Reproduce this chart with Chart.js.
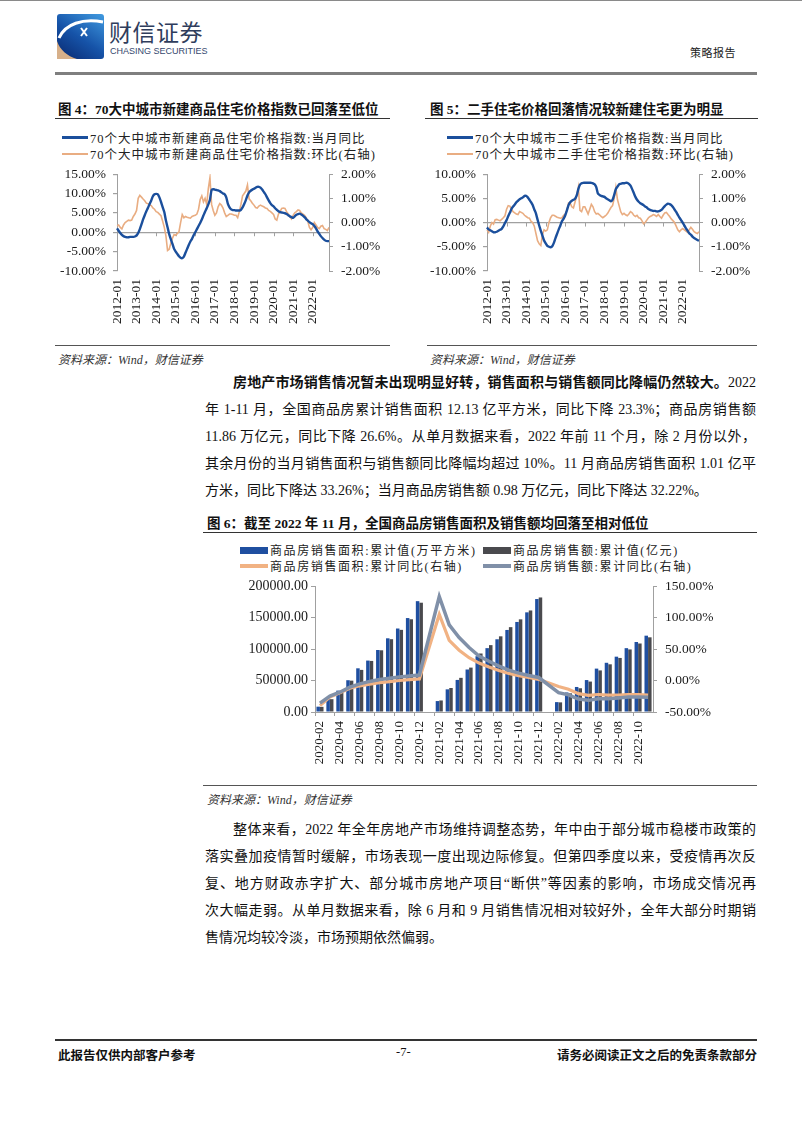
<!DOCTYPE html>
<html lang="zh-CN">
<head>
<meta charset="utf-8">
<title>策略报告 -7-</title>
<script src="https://cdn.jsdelivr.net/npm/chart.js@4.4.1/dist/chart.umd.min.js"></script>
<style>
  body { margin: 0; background: #fff; }
  #page { position: relative; width: 802px; height: 1133px; overflow: hidden;
          font-family: "Liberation Serif", "Noto Sans CJK SC", serif; color: #111; }
  .abs { position: absolute; white-space: nowrap; }
  .rule { position: absolute; height: 0; }
  .fig-title { position: absolute; white-space: nowrap; font-weight: bold; font-size: 13.5px; color: #111; }
  .src { position: absolute; white-space: nowrap; font-style: italic; font-size: 12px; color: #333; }
  .legend { position: absolute; font-size: 12.5px; letter-spacing: 1px; color: #222; white-space: nowrap; }
  .legend .row { height: 16.6px; display: flex; align-items: center; }
  .legend .item { display: flex; align-items: center; }
  .sw { display: inline-block; width: 26px; margin-right: 2px; }
  .box { position: absolute; }
  .para { position: absolute; left: 205px; width: 551px; font-size: 14px; }
  .para .ln { height: 27px; line-height: 27px; white-space: nowrap; text-align: justify; text-align-last: justify; }
  .para .ln.first { padding-left: 28px; }
  .para .ln.last { text-align-last: left; }
</style>
</head>
<body>
<div id="page">

  <!-- header -->
  <div class="rule" style="left:0;top:0;width:802px;border-top:1.5px solid #8a8a8a;"></div>
  <svg class="abs" style="left:57px;top:14px;" width="48" height="46" viewBox="0 0 48 46">
    <defs>
      <linearGradient id="lg" x1="0.9" y1="0" x2="0.2" y2="1">
        <stop offset="0" stop-color="#3d95dc"/>
        <stop offset="0.55" stop-color="#1653a8"/>
        <stop offset="1" stop-color="#0b2f78"/>
      </linearGradient>
    </defs>
    <rect x="0" y="0" width="47" height="45" rx="3" fill="url(#lg)"/>
    <path d="M0 27 L0 45 L20 45 C10 42 3 36 0 27 Z" fill="#d7b08a"/>
    <path d="M2 24 C 8 10, 26 4, 46 8" stroke="#fff" stroke-width="3" fill="none"/>
    <path d="M24 14 L30 22 M30 14 L24 22" stroke="#fff" stroke-width="2" fill="none"/>
  </svg>
  <div class="abs" style="left:109px;top:14px;font-family:'Noto Sans CJK SC';font-size:23px;letter-spacing:0.5px;color:#2f3d5c;">财信证券</div>
  <div class="abs" style="left:110px;top:46px;font-family:'Liberation Sans Narrow','Liberation Sans';font-size:9px;color:#34476e;">CHASING SECURITIES</div>
  <div class="abs" style="left:690px;top:44px;font-family:'Noto Sans CJK SC';font-size:11px;letter-spacing:0.5px;color:#222;">策略报告</div>
  <div class="rule" style="left:55px;top:72px;width:702px;border-top:3px solid #7f7f7f;"></div>

  <!-- figure 4 -->
  <div class="fig-title" style="left:58px;top:98px;">图 4：70大中城市新建商品住宅价格指数已回落至低位</div>
  <div class="rule" style="left:55px;top:118px;width:335px;border-top:1.5px solid #333;"></div>
  <div class="legend" style="left:62px;top:129px;">
    <div class="row"><span class="sw" style="height:2.5px;background:#1b4f9c;"></span>70个大中城市新建商品住宅价格指数:当月同比</div>
    <div class="row"><span class="sw" style="height:2px;background:#e9ad82;"></span>70个大中城市新建商品住宅价格指数:环比(右轴)</div>
  </div>
  <div class="box" style="left:60px;top:158px;width:330px;height:180px;"><canvas id="c4" width="330" height="180"></canvas></div>
  <div class="rule" style="left:55px;top:345px;width:335px;border-top:1.5px solid #555;"></div>
  <div class="src" style="left:58px;top:350px;">资料来源：Wind，财信证券</div>

  <!-- figure 5 -->
  <div class="fig-title" style="left:430px;top:98px;">图 5：二手住宅价格回落情况较新建住宅更为明显</div>
  <div class="rule" style="left:425px;top:118px;width:333px;border-top:1.5px solid #333;"></div>
  <div class="legend" style="left:447px;top:129px;">
    <div class="row"><span class="sw" style="height:2.5px;background:#1b4f9c;"></span>70个大中城市二手住宅价格指数:当月同比</div>
    <div class="row"><span class="sw" style="height:2px;background:#e9ad82;"></span>70个大中城市二手住宅价格指数:环比(右轴)</div>
  </div>
  <div class="box" style="left:430px;top:158px;width:330px;height:180px;"><canvas id="c5" width="330" height="180"></canvas></div>
  <div class="rule" style="left:427px;top:345px;width:330px;border-top:1.5px solid #555;"></div>
  <div class="src" style="left:430px;top:350px;">资料来源：Wind，财信证券</div>

  <!-- paragraph 1 -->
  <div class="para" style="top:369px;">
    <div class="ln first"><b>房地产市场销售情况暂未出现明显好转，销售面积与销售额同比降幅仍然较大。</b>2022</div>
    <div class="ln">年 1-11 月，全国商品房累计销售面积 12.13 亿平方米，同比下降 23.3%；商品房销售额</div>
    <div class="ln">11.86 万亿元，同比下降 26.6%。从单月数据来看，2022 年前 11 个月，除 2 月份以外，</div>
    <div class="ln">其余月份的当月销售面积与销售额同比降幅均超过 10%。11 月商品房销售面积 1.01 亿平</div>
    <div class="ln last">方米，同比下降达 33.26%；当月商品房销售额 0.98 万亿元，同比下降达 32.22%。</div>
  </div>

  <!-- figure 6 -->
  <div class="fig-title" style="left:207px;top:512px;">图 6：截至 2022 年 11 月，全国商品房销售面积及销售额均回落至相对低位</div>
  <div class="rule" style="left:203px;top:532px;width:554px;border-top:1.5px solid #333;"></div>
  <div class="legend" style="left:240px;top:542px;font-size:12px;letter-spacing:1.6px;">
    <div class="row" style="height:16px;">
      <span class="item" style="width:243px;"><span class="sw" style="width:28px;height:7px;background:#1f4fa0;"></span>商品房销售面积:累计值(万平方米)</span>
      <span class="item"><span class="sw" style="width:28px;height:7px;background:#4a4a4e;"></span>商品房销售额:累计值(亿元)</span>
    </div>
    <div class="row" style="height:16px;">
      <span class="item" style="width:243px;"><span class="sw" style="width:28px;height:3.5px;background:#f1b283;"></span>商品房销售面积:累计同比(右轴)</span>
      <span class="item"><span class="sw" style="width:28px;height:3.5px;background:#8090a8;"></span>商品房销售额:累计同比(右轴)</span>
    </div>
  </div>
  <div class="box" style="left:205px;top:570px;width:552px;height:200px;"><canvas id="c6" width="552" height="200"></canvas></div>
  <div class="rule" style="left:203px;top:785px;width:554px;border-top:1.5px solid #555;"></div>
  <div class="src" style="left:207px;top:790px;">资料来源：Wind，财信证券</div>

  <!-- paragraph 2 -->
  <div class="para" style="top:816px;">
    <div class="ln first">整体来看，2022 年全年房地产市场维持调整态势，年中由于部分城市稳楼市政策的</div>
    <div class="ln">落实叠加疫情暂时缓解，市场表现一度出现边际修复。但第四季度以来，受疫情再次反</div>
    <div class="ln">复、地方财政赤字扩大、部分城市房地产项目“断供”等因素的影响，市场成交情况再</div>
    <div class="ln">次大幅走弱。从单月数据来看，除 6 月和 9 月销售情况相对较好外，全年大部分时期销</div>
    <div class="ln last">售情况均较冷淡，市场预期依然偏弱。</div>
  </div>

  <!-- footer -->
  <div class="rule" style="left:55px;top:1039px;width:702px;border-top:2px solid #333;"></div>
  <div class="abs" style="left:58px;top:1045px;font-size:12.5px;font-weight:bold;">此报告仅供内部客户参考</div>
  <div class="abs" style="left:396px;top:1045px;font-size:12.5px;">-7-</div>
  <div class="abs" style="right:45px;top:1045px;font-size:12.5px;font-weight:bold;">请务必阅读正文之后的免责条款部分</div>
</div>

<script>
// ── Fig 4/5 data: monthly, 2012-01 .. 2022-11 ─────────────
const months = [];
for (let yr = 2012; yr <= 2022; yr++) {
    for (let mo = 1; mo <= 12; mo++) {
        if (yr === 2022 && mo > 11) break;
        months.push(yr + '-' + String(mo).padStart(2, '0'));
    }
}

// 新建商品住宅: 当月同比 (%)
const newYoY = [
    1.0, 0.4, -0.2, -0.7, -1.0, -1.2, -1.3, -1.3, -1.2, -1.2, -1.2, -1.1,
    -0.8, -0.2, 0.8, 2.0, 3.3, 4.4, 5.4, 6.3, 7.3, 8.2, 9.3, 9.8,
    9.9, 9.8, 9.0, 7.8, 6.5, 5.2, 3.0, 1.3, -0.5, -1.8, -3.0, -4.3,
    -5.0, -5.6, -6.2, -6.6, -6.7, -6.3, -5.3, -4.3, -3.3, -2.4, -1.7, -0.8,
    0.0, 0.8, 1.6, 2.4, 3.3, 4.3, 5.3, 6.2, 7.2, 8.4, 10.9, 11.1,
    11.0, 10.9, 10.8, 10.6, 10.3, 10.0, 9.8, 9.0, 7.3, 6.4, 5.9, 5.7,
    5.7, 5.6, 5.6, 5.6, 5.8, 6.4, 7.3, 8.3, 9.5, 10.3, 10.7, 11.0,
    11.2, 11.5, 11.7, 11.7, 11.5, 11.0, 10.4, 9.8, 9.0, 8.2, 7.5, 7.0,
    6.7, 6.2, 5.8, 5.4, 5.2, 5.1, 5.0, 4.9, 4.7, 4.4, 4.1, 3.9,
    3.7, 4.1, 4.5, 4.7, 4.8, 4.6, 4.3, 3.9, 3.4, 3.0, 2.6, 2.3,
    2.1, 1.6, 1.0, 0.2, -0.4, -1.0, -1.5, -1.9, -2.2, -2.3, -2.3
];
// 新建商品住宅: 环比 (%, 右轴)
const newMoM = [
    -0.13, -0.1, -0.2, -0.26, -0.1, 0.0, 0.05, 0.1, 0.08, 0.1, 0.25, 0.35,
    0.5, 1.0, 1.12, 1.05, 0.97, 0.9, 0.8, 0.78, 0.73, 0.7, 0.6, 0.55,
    0.45, 0.42, 0.35, 0.28, 0.05, -0.2, -0.55, -1.15, -1.1, -0.85, -0.65, -0.5,
    -0.53, -0.45, -0.38, 0.0, 0.33, 0.2, 0.25, 0.22, 0.2, 0.18, 0.25, 0.28,
    0.3, 0.35, 0.55, 0.95, 1.1, 0.85, 1.0, 0.75, 1.4, 1.85, 0.75, 0.5,
    0.3, 0.4, 0.65, 0.78, 0.72, 0.6, 0.4, 0.25, 0.3, 0.35, 0.35, 0.33,
    0.3, 0.3, 0.2, 0.45, 0.75, 1.1, 1.2, 1.3, 1.55, 0.98, 0.9, 0.8,
    0.72, 0.62, 0.6, 0.68, 0.72, 0.68, 0.65, 0.6, 0.58, 0.5, 0.46, 0.4,
    0.33, 0.15, 0.1, 0.35, 0.45, 0.58, 0.6, 0.58, 0.45, 0.35, 0.25, 0.15,
    0.3, 0.4, 0.45, 0.52, 0.5, 0.4, 0.35, 0.3, 0.2, 0.05, -0.2, -0.3,
    -0.2, 0.0, -0.1, -0.2, -0.25, -0.15, -0.12, -0.25, -0.28, -0.33, -0.2
];
// 二手住宅: 当月同比 (%)
const usedYoY = [
    -1.0, -1.4, -1.6, -1.8, -2.0, -2.0, -1.9, -1.7, -1.5, -1.3, -0.8, -0.1,
    0.5, 1.3, 2.0, 2.8, 3.3, 3.7, 4.2, 4.5, 4.8, 5.0, 5.2, 5.5,
    5.5, 5.2, 4.7, 4.2, 3.6, 2.7, 1.9, 0.6, -0.6, -1.7, -2.7, -3.7,
    -4.3, -4.8, -5.0, -5.1, -4.9, -4.2, -3.2, -2.3, -1.4, -0.6, 0.3, 0.8,
    1.5, 2.5, 3.6, 4.2, 4.5, 4.7, 4.9, 5.6, 6.9, 7.8, 8.1, 8.2,
    8.2, 8.2, 8.2, 8.2, 8.2, 8.1, 7.9, 7.3, 6.0, 5.7, 5.5, 5.4,
    5.3, 5.0, 4.8, 4.6, 4.4, 4.7, 5.7, 6.9, 7.4, 7.9, 8.0, 8.1,
    8.1, 8.2, 8.2, 8.0, 7.6, 6.9, 6.1, 5.3, 4.7, 4.3, 4.0, 3.8,
    3.6, 3.3, 3.1, 2.8, 2.6, 2.5, 2.4, 2.4, 2.3, 2.3, 2.4, 2.6,
    3.0, 3.4, 3.7, 3.9, 3.8, 3.6, 3.2, 2.7, 2.2, 1.6, 1.0, 0.5,
    0.0, -0.6, -1.2, -1.7, -2.2, -2.5, -2.9, -3.2, -3.4, -3.6, -3.75
];
// 二手住宅: 环比 (%, 右轴)
const usedMoM = [
    -0.3, -0.4, -0.15, 0.0, -0.06, 0.12, 0.13, 0.1, 0.07, 0.13, 0.2, 0.28,
    0.55, 0.7, 0.68, 0.55, 0.45, 0.4, 0.35, 0.33, 0.45, 0.42, 0.38, 0.3,
    0.25, 0.2, 0.18, 0.05, 0.0, -0.15, -0.45, -0.75, -0.88, -0.95, -0.5, -0.3,
    -0.35, -0.3, 0.0, 0.2, 0.3, 0.3, 0.26, 0.22, 0.2, 0.18, 0.2, 0.3,
    0.35, 0.5, 0.8, 0.8, 0.65, 0.6, 0.85, 1.1, 1.45, 0.5, 0.45, 0.65,
    0.65, 0.5, 0.35, 0.55, 0.75, 0.65, 0.45, 0.35, 0.38, 0.32, 0.25, 0.2,
    0.25, 0.3, 0.38, 0.5, 0.62, 0.7, 1.0, 1.45, 0.95, 0.7, 0.45, 0.33,
    0.38, 0.32, 0.28, 0.35, 0.45, 0.4, 0.3, 0.25, 0.3, 0.2, 0.18, 0.08,
    -0.05, 0.0, 0.1, 0.2, 0.25, 0.28, 0.33, 0.3, 0.25, 0.33, 0.25, 0.18,
    0.3, 0.4, 0.42, 0.33, 0.25, 0.15, 0.08, 0.0, -0.15, -0.3, -0.38, -0.3,
    -0.25, -0.3, -0.35, -0.4, -0.3, -0.2, -0.28, -0.38, -0.42, -0.45, -0.38
];

// ── Fig 6 data ────────────────────────────────────────────
const salesMonths = [
    '2020-02', '2020-03', '2020-04', '2020-05', '2020-06', '2020-07', '2020-08', '2020-09', '2020-10', '2020-11', '2020-12',
    '2021-01', '2021-02', '2021-03', '2021-04', '2021-05', '2021-06', '2021-07', '2021-08', '2021-09', '2021-10', '2021-11', '2021-12',
    '2022-01', '2022-02', '2022-03', '2022-04', '2022-05', '2022-06', '2022-07', '2022-08', '2022-09', '2022-10', '2022-11'
];
// 商品房销售面积:累计值 (万平方米)
const areaCum = [
    8475, 21978, 33973, 50486, 69404, 81698, 98486, 117073, 132634, 149233, 176086,
    null, 17363, 36007, 50952, 67523, 88635, 101446, 115530, 130332, 143041, 158307, 179433,
    null, 15703, 31046, 39768, 50738, 68923, 78178, 87890, 101422, 111179, 121250
];
// 商品房销售额:累计值 (亿元)
const amountCum = [
    8203, 20365, 33252, 49793, 66895, 81146, 98032, 115647, 130492, 147322, 173613,
    null, 18331, 38124, 54265, 70534, 92931, 106226, 120214, 134795, 147185, 161295, 181930,
    null, 15303, 29655, 37721, 48337, 66072, 75763, 85870, 99380, 108832, 118648
];
// 商品房销售面积:累计同比 (%)
const areaYoY = [
    -39.9, -26.3, -19.3, -12.3, -8.4, -5.8, -3.3, -1.8, 0.0, 1.3, 2.6,
    null, 104.9, 63.8, 48.1, 36.3, 27.7, 21.5, 15.9, 11.3, 7.8, 4.8, 1.9,
    null, -9.6, -13.8, -20.9, -23.6, -22.2, -23.1, -23.0, -22.2, -22.3, -23.3
];
// 商品房销售额:累计同比 (%)
const amountYoY = [
    -35.9, -24.7, -18.6, -10.6, -5.4, -1.4, 1.6, 3.7, 5.8, 7.2, 8.7,
    null, 133.4, 88.5, 68.2, 52.4, 38.9, 30.7, 22.9, 16.6, 11.8, 8.0, 4.8,
    null, -19.3, -22.7, -29.5, -31.5, -28.9, -28.8, -27.9, -26.3, -26.1, -26.6
];

// ── shared look ───────────────────────────────────────────
Chart.defaults.font.family = "'Liberation Serif', serif";
Chart.defaults.font.size = 13.5;
Chart.defaults.color = '#1a1a1a';
Chart.defaults.animation = false;

const AXIS = '#a0a0a0';

// short tick marks hanging off the zero line at each year
const zeroTicks = {
    id: 'zeroTicks',
    beforeDatasetsDraw(chart) {
        const xs = chart.scales.x, ys = chart.scales.y, ctx = chart.ctx;
        const y0 = ys.getPixelForValue(0);
        ctx.save();
        ctx.strokeStyle = AXIS;
        ctx.lineWidth = 1;
        ctx.beginPath();
        months.forEach((m, i) => {
            if (i > 0 && m.endsWith('-01')) {
                const px = Math.round(xs.getPixelForValue(i)) + 0.5;
                ctx.moveTo(px, y0);
                ctx.lineTo(px, y0 + 4);
            }
        });
        ctx.stroke();
        ctx.restore();
    }
};

function priceChart(id, yoy, mom, leftMin, leftMax) {
    const canvas = document.getElementById(id);
    return new Chart(canvas.getContext('2d'), {
        type: 'line',
        data: {
            labels: months,
            datasets: [
                { data: yoy, yAxisID: 'y', borderColor: '#1b4f9c', borderWidth: 2.4, pointRadius: 0, tension: 0.2 },
                { data: mom, yAxisID: 'y1', borderColor: '#e9ad82', borderWidth: 1.6, pointRadius: 0, tension: 0 }
            ]
        },
        options: {
            responsive: false,
            layout: { padding: { top: 13, left: 0, right: 0, bottom: 0 } },
            plugins: { legend: { display: false }, tooltip: { enabled: false } },
            scales: {
                x: {
                    grid: { display: false, drawTicks: false },
                    border: { display: false },
                    ticks: {
                        autoSkip: false, maxRotation: 90, minRotation: 90, padding: 8,
                        callback: (v, i) => months[i].endsWith('-01') ? months[i] : ''
                    },
                    afterFit: s => { s.height = 67; }
                },
                y: {
                    position: 'left', min: leftMin, max: leftMax,
                    ticks: { stepSize: 5, padding: 7, callback: v => v.toFixed(2) + '%' },
                    grid: {
                        color: c => (c.tick && c.tick.value === 0) ? AXIS : 'rgba(0,0,0,0)',
                        lineWidth: 1.2, tickColor: AXIS, tickLength: 4
                    },
                    border: { display: true, color: AXIS },
                    afterFit: s => { s.width = 57; }
                },
                y1: {
                    position: 'right', min: -2, max: 2,
                    ticks: { stepSize: 1, padding: 8, callback: v => v.toFixed(2) + '%' },
                    grid: { drawOnChartArea: false, tickColor: AXIS, tickLength: 4 },
                    border: { display: true, color: AXIS },
                    afterFit: s => { s.width = 61; }
                }
            }
        },
        plugins: [zeroTicks]
    });
}

function salesChart() {
    const canvas = document.getElementById('c6');
    return new Chart(canvas.getContext('2d'), {
        type: 'bar',
        data: {
            labels: salesMonths,
            datasets: [
                { type: 'line', data: amountYoY, yAxisID: 'y1', borderColor: '#8090a8', borderWidth: 3.5,
                  pointRadius: 0, spanGaps: true, tension: 0 },
                { type: 'line', data: areaYoY, yAxisID: 'y1', borderColor: '#f1b283', borderWidth: 3.2,
                  pointRadius: 0, spanGaps: true, tension: 0 },
                { data: areaCum, yAxisID: 'y', backgroundColor: '#1f4fa0',
                  categoryPercentage: 0.72, barPercentage: 0.98 },
                { data: amountCum, yAxisID: 'y', backgroundColor: '#4a4a4e',
                  categoryPercentage: 0.72, barPercentage: 0.98 }
            ]
        },
        options: {
            responsive: false,
            layout: { padding: { top: 12, left: 0, right: 0, bottom: 0 } },
            plugins: { legend: { display: false }, tooltip: { enabled: false } },
            scales: {
                x: {
                    offset: true,
                    grid: {
                        offset: true, drawOnChartArea: false, tickLength: 4,
                        tickColor: c => (c.index % 2 === 0) ? AXIS : 'rgba(0,0,0,0)'
                    },
                    border: { display: true, color: AXIS },
                    ticks: {
                        autoSkip: false, maxRotation: 90, minRotation: 90, padding: 5, font: { size: 13 },
                        callback: (v, i) => (i % 2 === 0) ? salesMonths[i] : ''
                    },
                    afterFit: s => { s.height = 58; }
                },
                y: {
                    position: 'left', min: 0, max: 200000,
                    ticks: { stepSize: 50000, padding: 3, font: { size: 14 }, callback: v => v.toFixed(2) },
                    grid: { drawOnChartArea: false, tickColor: AXIS, tickLength: 4 },
                    border: { display: true, color: AXIS },
                    afterFit: s => { s.width = 110; }
                },
                y1: {
                    position: 'right', min: -50, max: 150,
                    ticks: { stepSize: 50, padding: 8, callback: v => v.toFixed(2) + '%' },
                    grid: { drawOnChartArea: false, tickColor: AXIS, tickLength: 4 },
                    border: { display: true, color: AXIS },
                    afterFit: s => { s.width = 104; }
                }
            }
        }
    });
}

priceChart('c4', newYoY, newMoM, -10, 15);
priceChart('c5', usedYoY, usedMoM, -10, 10);
salesChart();
</script>
</body>
</html>
